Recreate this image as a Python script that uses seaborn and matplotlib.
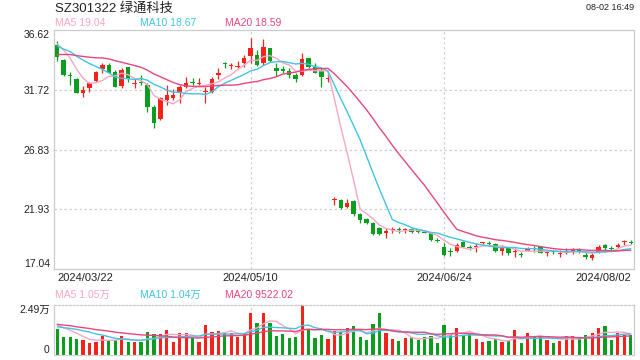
import numpy as np
import pandas as pd
import matplotlib
matplotlib.use("Agg")
import matplotlib.pyplot as plt
import seaborn as sns

# trading-day index labels shown under the price panel
date_labels = ["2024/03/22", "2024/05/10", "2024/06/24", "2024/08/02"]
date_pos = [0, 30, 60, 89]

open_ = [35.39, 34.16, 32.93, 32.58, 31.43, 31.90, 32.47, 33.43, 33.75, 33.21,
         32.03, 33.56, 32.17, 32.33, 32.11, 30.34, 29.30, 30.89, 31.02, 31.43,
         31.98, 32.39, 32.17, 31.51, 31.51, 32.91, 33.94, 33.64, 33.56, 33.89,
         34.52, 34.57, 33.89, 35.12, 33.53, 33.43, 33.29, 32.93, 32.93, 34.35,
         33.62, 33.29, 32.63, 22.66, 22.69, 22.15, 22.64, 21.52, 21.11, 20.83,
         20.37, 19.96, 20.26, 20.32, 20.21, 20.29, 20.29, 20.10, 20.02, 19.41,
         18.87, 18.49, 18.54, 19.28, 18.87, 18.84, 19.14, 19.17, 19.09, 18.54,
         18.73, 18.43, 18.27, 18.54, 18.76, 18.81, 18.35, 18.49, 18.30, 18.32,
         18.49, 18.65, 18.19, 17.91, 18.46, 19.01, 18.76, 18.81, 19.25, 19.28]
close = [34.44, 32.93, 32.85, 31.43, 31.70, 32.31, 33.21, 33.75, 33.12, 31.98,
         33.34, 32.58, 32.22, 32.25, 30.28, 28.97, 31.02, 31.27, 31.30, 31.98,
         32.31, 32.31, 32.28, 31.57, 32.58, 33.12, 33.86, 33.70, 33.67, 34.35,
         35.17, 33.75, 35.25, 34.08, 33.29, 33.26, 32.93, 32.58, 34.22, 33.62,
         33.12, 32.80, 32.69, 22.72, 22.01, 22.47, 21.54, 21.05, 20.78, 19.91,
         19.91, 20.18, 20.32, 20.23, 20.26, 20.10, 20.10, 19.96, 19.41, 19.36,
         18.19, 18.43, 19.01, 18.87, 18.73, 18.90, 19.20, 19.11, 18.54, 18.87,
         18.32, 18.49, 18.19, 18.73, 18.70, 18.38, 18.40, 18.43, 18.35, 18.54,
         18.54, 18.46, 18.00, 18.19, 18.87, 18.73, 18.70, 19.01, 19.31, 19.20]
high = [35.75, 34.22, 33.15, 32.71, 32.03, 32.39, 33.29, 33.94, 33.89, 33.34,
        33.48, 33.62, 32.66, 32.93, 32.25, 30.48, 31.16, 32.11, 31.76, 32.11,
        32.80, 32.66, 32.66, 31.98, 32.80, 33.48, 33.97, 33.89, 34.11, 34.57,
        35.94, 34.98, 35.86, 35.15, 33.89, 33.67, 33.48, 33.07, 34.71, 34.35,
        33.89, 33.48, 33.12, 22.96, 22.75, 22.77, 22.69, 21.60, 21.24, 20.92,
        20.51, 20.37, 20.45, 20.51, 20.43, 20.37, 20.34, 20.18, 20.10, 19.55,
        19.14, 18.73, 19.14, 19.36, 19.01, 19.20, 19.28, 19.36, 19.14, 19.01,
        18.87, 18.73, 18.46, 18.87, 18.92, 18.92, 18.54, 18.60, 18.60, 18.73,
        18.73, 18.73, 18.46, 18.38, 19.01, 19.09, 18.92, 19.14, 19.41, 19.41]
low = [34.11, 32.88, 32.11, 31.43, 31.16, 31.57, 32.39, 33.07, 33.07, 31.92,
       31.84, 32.39, 31.84, 32.11, 29.93, 28.62, 29.25, 30.48, 30.89, 30.67,
       31.84, 32.11, 32.03, 30.67, 31.43, 32.58, 33.48, 33.40, 33.54, 33.56,
       33.89, 33.67, 33.75, 34.03, 32.85, 33.07, 32.66, 32.39, 32.85, 33.48,
       33.07, 31.92, 32.39, 22.28, 21.95, 22.01, 21.41, 20.83, 20.73, 19.82,
       19.82, 19.55, 20.02, 20.02, 19.96, 20.02, 20.02, 19.96, 19.36, 19.25,
       18.10, 18.10, 18.46, 18.81, 18.60, 18.46, 19.09, 18.92, 18.46, 18.19,
       18.19, 18.00, 18.05, 18.49, 18.46, 18.32, 18.10, 18.27, 18.00, 18.27,
       18.27, 18.38, 17.83, 17.78, 18.38, 18.60, 18.54, 18.73, 19.01, 19.09]
volume = [12950, 8960, 8960, 7970, 7470, 5980, 6470, 9630, 7140, 7470,
          9300, 6470, 6470, 6470, 11450, 10290, 10460, 12450, 6640, 10790,
          10790, 8630, 6640, 14940, 11450, 11950, 10790, 10790, 9130, 10460,
          21060, 16100, 21060, 16100, 9460, 10460, 8300, 8800, 24900, 12450,
          8300, 9960, 7970, 11950, 11450, 13450, 14440, 8800, 7470, 15440,
          20750, 10790, 7970, 6970, 8470, 8800, 7470, 9130, 9460, 6140,
          14940, 9960, 13450, 9960, 10790, 7800, 6640, 7140, 7800, 6640,
          7140, 12450, 6140, 10790, 9460, 9460, 7470, 6140, 7140, 9460,
          9460, 7800, 9960, 10790, 13450, 14440, 7470, 11120, 9960, 9960]

# sessions before 03/22 (off-screen), estimated from where the MA lines start
prev_close = [32.6, 32.9, 33.3, 33.0, 33.6, 34.2, 34.0, 34.6, 35.0, 35.8,
              35.4, 34.8, 35.2, 34.9, 35.2, 35.6, 36.1, 35.9, 35.46]
prev_volume = [17000, 15500, 18200, 16000, 14800, 17500, 16200, 15900, 17300, 16600,
               13800, 12500, 13000, 14200, 12500, 16200, 14800, 15600, 15450]

price_ticks = [17.04, 21.93, 26.83, 31.72, 36.62]
vol_max = 24900
ma_windows = [5, 10, 20]
ma_text = ["MA5 19.04", "MA10 18.67", "MA20 18.59"]
vol_ma_text = ["MA5 1.05万", "MA10 1.04万", "MA20 9522.02"]

RED = "#f3221b"
GREEN = "#0b9e1e"
MA_COLORS = ["#f7a6c4", "#3fc4e3", "#e9467c"]
GRID = "#d0d0d0"

sns.set_theme(style="white")
plt.rcParams["font.family"] = ["Liberation Sans", "Noto Sans CJK SC", "DejaVu Sans"]

fig = plt.figure(figsize=(6.4, 3.6), dpi=100)
ax = fig.add_axes([54 / 640, 1 - 269 / 360, 580 / 640, 239 / 360])
axv = fig.add_axes([54 / 640, 1 - 355 / 360, 580 / 640, 50 / 360])

idx = np.arange(len(close))
o = np.array(open_)
c = np.array(close)
colors = np.where(c >= o, RED, GREEN)

# candles
ax.vlines(idx, low, high, colors=colors, linewidth=0.9, zorder=2)
ax.bar(idx, np.maximum(np.abs(c - o), 0.09), bottom=np.minimum(o, c),
       width=0.7, color=colors, linewidth=0, zorder=3)

full_close = pd.Series(prev_close + close)
full_vol = pd.Series(prev_volume + volume)
n0 = len(prev_close)
for w, col in zip(ma_windows, MA_COLORS):
    ma = full_close.rolling(w).mean().to_numpy()[n0:]
    sns.lineplot(x=idx, y=ma, ax=ax, color=col, linewidth=1.0, zorder=4)
    vma = full_vol.rolling(w).mean().to_numpy()[n0:]
    sns.lineplot(x=idx, y=vma, ax=axv, color=col, linewidth=1.0, zorder=4)

axv.bar(idx, volume, width=0.5, color=colors, linewidth=0, zorder=2)

# price axis styling
ax.set_xlim(-0.5, len(close) - 0.5)
ax.set_ylim(price_ticks[0], price_ticks[-1])
ax.set_yticks(price_ticks)
ylabs = ax.set_yticklabels([f"{t:.2f}" for t in price_ticks], fontsize=7.5, color="#222222")
ylabs[0].set_va("bottom")
ylabs[-1].set_va("top")
for t in price_ticks[1:-1]:
    ax.axhline(t, color=GRID, linewidth=0.9, linestyle=(0, (2, 2)), zorder=1)
for p in date_pos[1:3]:
    ax.axvline(p, color=GRID, linewidth=0.9, linestyle=(0, (2, 2)), zorder=1)
    axv.axvline(p, color=GRID, linewidth=0.9, linestyle=(0, (2, 2)), zorder=1)
ax.set_xticks(date_pos)
xlabs = ax.set_xticklabels(date_labels, fontsize=8, color="#222222")
xlabs[0].set_ha("left")
xlabs[-1].set_ha("right")
ax.tick_params(axis="both", length=0, pad=3)
for s in ax.spines.values():
    s.set_color("#cccccc")
    s.set_linewidth(0.9)

# volume axis styling
axv.set_xlim(-0.5, len(close) - 0.5)
axv.set_ylim(0, vol_max)
axv.set_xticks([])
axv.set_yticks([0, vol_max])
vlabs = axv.set_yticklabels(["0", "2.49万"], fontsize=7.5, color="#222222")
vlabs[0].set_va("bottom")
vlabs[1].set_va("top")
axv.tick_params(axis="both", length=0, pad=3)
for name, s in axv.spines.items():
    s.set_color("#cccccc")
    s.set_linewidth(0.9)
    if name in ("top", "bottom"):
        s.set_linestyle((0, (1.5, 1.5)))
ax.set_xlabel("")
ax.set_ylabel("")
axv.set_xlabel("")
axv.set_ylabel("")

# header texts
fig.text(55 / 640, 1 - 8 / 360, "SZ301322 绿通科技", fontsize=9.5, color="#222222", va="center")
fig.text(634 / 640, 1 - 8 / 360, "08-02 16:49", fontsize=6.5, color="#222222", va="center", ha="right")
for x, txt, col in zip([55, 140, 225], ma_text, MA_COLORS):
    fig.text(x / 640, 1 - 23 / 360, txt, fontsize=7.5, color=col, va="center")
for x, txt, col in zip([55, 140, 225], vol_ma_text, MA_COLORS):
    fig.text(x / 640, 1 - 295 / 360, txt, fontsize=7.5, color=col, va="center")
ax.text(0.94, 0.09, "sina", transform=ax.transAxes, fontsize=8, color="#e8e8e8",
        ha="center", va="center", zorder=0)

fig.savefig("out.png", dpi=100)
